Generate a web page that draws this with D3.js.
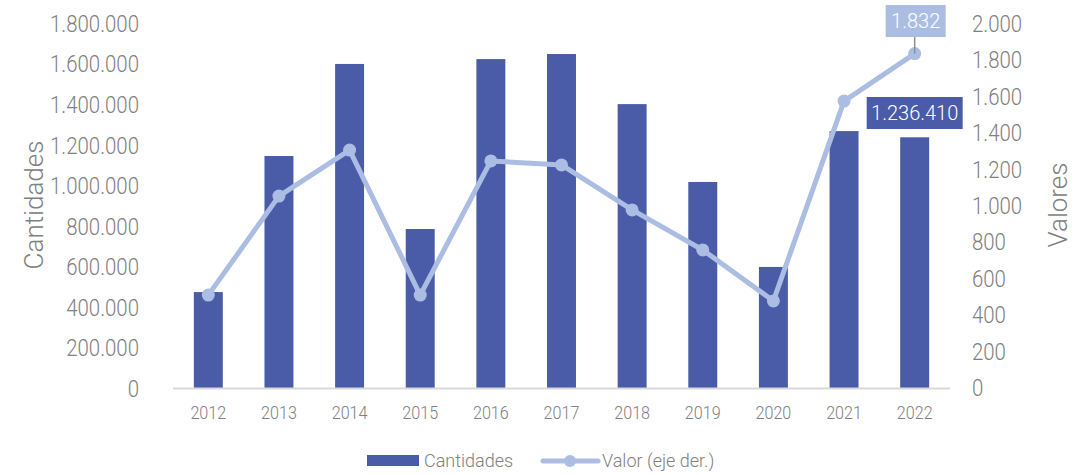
<!DOCTYPE html>
<html><head><meta charset="utf-8">
<script src="https://cdn.jsdelivr.net/npm/d3@7"></script>
<style>
body{margin:0;background:#fff;}
text{font-family:Roboto, "Open Sans", sans-serif;font-weight:300;}
</style></head>
<body><svg id="c" width="1075" height="475"></svg>
<script>
const years=["2012","2013","2014","2015","2016","2017","2018","2019","2020","2021","2022"];
const cantidades=[473000,1144000,1598000,784000,1622000,1647000,1400000,1016000,597000,1267000,1236410];
const valores=[505,1049,1302,505,1242,1220,973,753,473,1571,1832];
const leftTicks=[0,200000,400000,600000,800000,1000000,1200000,1400000,1600000,1800000];
const rightTicks=[0,200,400,600,800,1000,1200,1400,1600,1800,2000];

const svg=d3.select("#c");
const L=173,R=950,T=23,B=388;
const fmt=d3.formatLocale({decimal:",",thousands:".",grouping:[3],currency:["",""]}).format(",");
const x=d3.scaleBand().domain(years).range([L,R]).paddingInner(0.59).paddingOuter(0.295);
const yL=d3.scaleLinear().domain([0,1800000]).range([B,T]);
const yR=d3.scaleLinear().domain([0,2000]).range([B-1,T]);
const grey="#808080", barC="#4a5ba8", lineC="#abbde3";
const SX=0.85;

// axes
const gl=svg.append("g").attr("transform",`translate(139,0)`)
 .call(d3.axisLeft(yL).tickValues(leftTicks).tickFormat(fmt).tickSize(0).tickPadding(0));
gl.select(".domain").remove();
gl.selectAll("text").attr("fill",grey).style("font-size","24px").attr("x",0).attr("dy","0.35em").attr("transform",`scale(${SX},1)`);
const gr=svg.append("g").attr("transform",`translate(972,0)`)
 .call(d3.axisRight(yR).tickValues(rightTicks).tickFormat(fmt).tickSize(0).tickPadding(0));
gr.select(".domain").remove();
gr.selectAll("text").attr("fill",grey).style("font-size","24px").attr("x",0).attr("dy","0.35em").attr("transform",`scale(${SX},1)`);

// bars
svg.append("g").selectAll("rect").data(years).join("rect")
 .attr("x",d=>x(d)).attr("width",x.bandwidth())
 .attr("y",(d,i)=>yL(cantidades[i])).attr("height",(d,i)=>B-yL(cantidades[i]))
 .attr("fill",barC);

// baseline
svg.append("line").attr("x1",L).attr("x2",R).attr("y1",B+0.5).attr("y2",B+0.5).attr("stroke","#d9d9d9").attr("stroke-width",2);

// x axis
const gx=svg.append("g").attr("transform",`translate(0,${B})`).call(d3.axisBottom(x).tickSize(0));
gx.select(".domain").remove();
gx.selectAll("text").attr("fill",grey).style("font-size","19px").attr("y",0).attr("dy","0.35em")
 .attr("transform",`translate(0,24) scale(${SX},1)`);
gx.selectAll(".tick").each(function(){
  // keep centre after horizontal scale
});

// line
const cx=d=>x(d)+x.bandwidth()/2;
svg.append("path").datum(years).attr("fill","none").attr("stroke",lineC).attr("stroke-width",5).attr("stroke-linejoin","round")
 .attr("d",d3.line().x(d=>cx(d)).y((d,i)=>yR(valores[i])));
svg.append("g").selectAll("circle").data(years).join("circle")
 .attr("cx",d=>cx(d)).attr("cy",(d,i)=>yR(valores[i])).attr("r",6.5).attr("fill",lineC);

// axis titles
svg.append("text").attr("transform",`translate(34,205) rotate(-90)`).attr("text-anchor","middle").attr("dy","0.35em")
 .attr("fill",grey).style("font-size","26px").text("Cantidades");
svg.append("text").attr("transform",`translate(1058,205) rotate(-90)`).attr("text-anchor","middle").attr("dy","0.35em")
 .attr("fill",grey).style("font-size","26px").text("Valores");

// data labels
const lx=cx("2022"), ly=yR(valores[10]);
svg.append("line").attr("x1",lx).attr("x2",lx).attr("y1",37).attr("y2",ly).attr("stroke","#909090").attr("stroke-width",1.5);
svg.append("rect").attr("x",lx-29).attr("y",5).attr("width",60).attr("height",32).attr("fill",lineC);
svg.append("text").attr("x",lx+1).attr("y",21).attr("dy","0.35em").attr("text-anchor","middle").attr("fill","#fff").style("font-size","20px").text(fmt(valores[10]));
const bx=cx("2022");
svg.append("rect").attr("x",bx-48).attr("y",97).attr("width",96).attr("height",32).attr("fill",barC);
svg.append("text").attr("x",bx).attr("y",113).attr("dy","0.35em").attr("text-anchor","middle").attr("fill","#fff").style("font-size","20px").text(fmt(cantidades[10]));

// legend
const lg=svg.append("g");
lg.append("rect").attr("x",367).attr("y",455).attr("width",52).attr("height",11).attr("fill",barC);
lg.append("text").attr("x",424).attr("y",461).attr("dy","0.35em").attr("fill",grey).style("font-size","18px").text("Cantidades");
lg.append("line").attr("x1",543).attr("x2",598).attr("y1",461).attr("y2",461).attr("stroke",lineC).attr("stroke-width",5).attr("stroke-linecap","round");
lg.append("circle").attr("cx",570).attr("cy",461).attr("r",6).attr("fill",lineC);
lg.append("text").attr("x",602).attr("y",461).attr("dy","0.35em").attr("fill",grey).style("font-size","18px").text("Valor (eje der.)");
</script></body></html>
